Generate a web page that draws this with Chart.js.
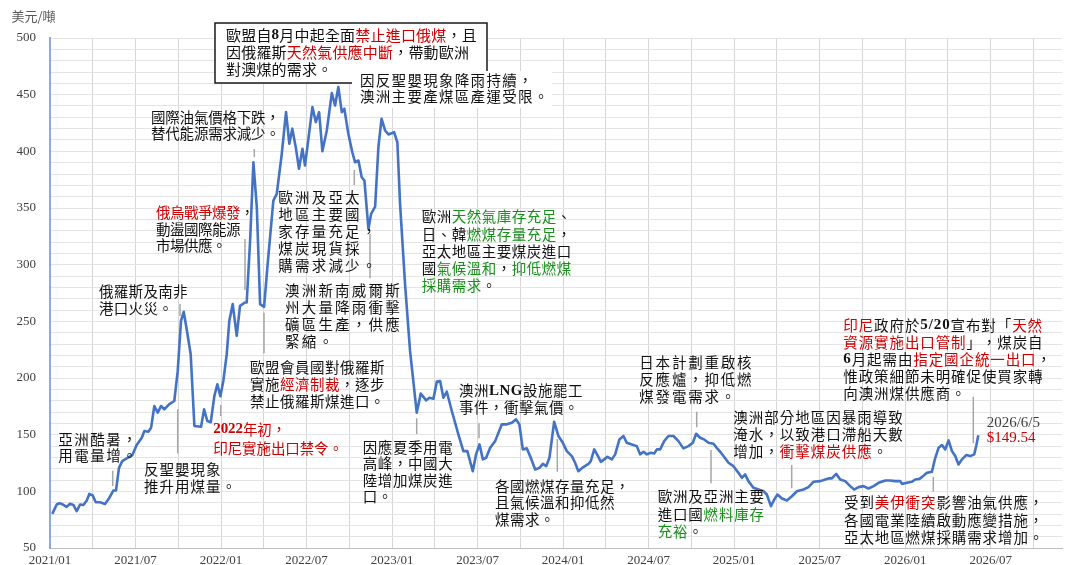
<!DOCTYPE html>
<html>
<head>
<meta charset="utf-8">
<script src="https://cdn.jsdelivr.net/npm/chart.js@4/dist/chart.umd.min.js"></script>
<style>
  html, body { margin: 0; padding: 0; background: #ffffff; }
  canvas { display: block; }
</style>
</head>
<body>
<canvas id="c" width="1066" height="565"></canvas>
<script>
// ---- DATA (months since 2021/01, price in US$/ton) ----
const months = [
  0.16, 0.47, 0.66, 0.82, 1.17, 1.40, 1.64, 1.87, 2.11, 2.34,
  2.58, 2.76, 3.00, 3.21, 3.51, 3.86, 4.16, 4.44, 4.63, 4.84,
  5.07, 5.38, 5.78, 6.08, 6.44, 6.62, 6.90, 7.09, 7.32, 7.56,
  7.79, 8.02, 8.35, 8.72, 8.96, 9.19, 9.38, 9.59, 9.87, 10.13,
  10.60, 10.81, 11.04, 11.28, 11.53, 11.74, 11.95, 12.16, 12.40, 12.58,
  12.82, 13.10, 13.33, 13.68, 13.80, 14.04, 14.27, 14.51, 14.74, 15.02,
  15.28, 15.67, 15.91, 16.26, 16.56, 16.79, 17.00, 17.24, 17.47, 17.71,
  17.89, 18.13, 18.41, 18.65, 18.88, 19.11, 19.42, 19.77, 20.00, 20.23,
  20.47, 20.65, 20.93, 21.21, 21.40, 21.64, 21.87, 22.06, 22.34, 22.53,
  22.81, 23.04, 23.26, 23.51, 23.74, 24.14, 24.37, 24.56, 24.91, 25.26,
  25.73, 26.01, 26.39, 26.62, 26.90, 27.14, 27.37, 27.60, 27.84, 28.19,
  28.65, 29.00, 29.28, 29.66, 29.89, 30.13, 30.37, 30.60, 30.88, 31.23,
  31.70, 32.05, 32.40, 32.70, 32.93, 33.17, 33.45, 33.73, 34.04, 34.34,
  34.58, 34.81, 35.04, 35.37, 35.67, 35.98, 36.26, 36.61, 36.84, 37.07,
  37.42, 37.78, 37.94, 38.18, 38.41, 38.65, 38.88, 39.11, 39.42, 39.65,
  39.95, 40.23, 40.47, 40.82, 41.17, 41.40, 41.64, 41.87, 42.15, 42.39,
  42.58, 42.81, 43.09, 43.39, 43.74, 44.09, 44.44, 44.79, 45.10, 45.33,
  45.61, 45.89, 46.20, 46.55, 46.78, 47.02, 47.25, 47.60, 47.95, 48.30,
  48.54, 48.77, 49.00, 49.35, 49.71, 50.06, 50.29, 50.58, 50.81, 51.04,
  51.35, 51.70, 52.05, 52.40, 52.86, 53.21, 53.56, 54.04, 54.39, 54.62,
  54.85, 55.16, 55.44, 55.79, 56.14, 56.42, 56.72, 57.07, 57.42, 57.78,
  58.13, 58.60, 58.95, 59.30, 59.65, 59.77, 60.12, 60.47, 60.70, 61.00,
  61.24, 61.52, 61.87, 62.11, 62.34, 62.58, 62.81, 63.04, 63.28, 63.51,
  63.74, 63.98, 64.28, 64.56, 64.84, 64.98, 65.13
];
const prices = [
  80.1, 88.4, 89.5, 88.9, 86.3, 89.0, 88.0, 82.5, 88.4, 88.0,
  91.9, 97.7, 96.3, 90.4, 90.4, 88.9, 94.2, 100.7, 100.7, 120.7,
  126.7, 129.0, 132.0, 140.8, 147.3, 153.2, 152.6, 156.0, 175.3, 169.4,
  175.3, 172.4, 176.8, 179.7, 206.0, 250.4, 258.4, 243.0, 221.0, 157.6,
  157.0, 172.4, 162.0, 161.0, 184.0, 194.5, 184.0, 197.4, 221.0, 250.4,
  265.2, 237.2, 263.6, 266.6, 266.6, 321.2, 390.4, 350.6, 265.2, 262.8,
  302.0, 356.5, 362.4, 397.8, 434.6, 406.7, 420.0, 403.7, 384.6, 402.3,
  387.5, 411.0, 439.0, 425.8, 434.6, 400.1, 418.4, 451.4, 440.5, 456.7,
  434.6, 437.6, 415.5, 399.2, 390.4, 391.9, 377.1, 374.2, 331.5, 344.8,
  351.2, 403.7, 428.8, 418.4, 414.9, 416.9, 408.0, 353.6, 282.9, 223.9,
  169.4, 186.2, 180.3, 182.6, 181.7, 196.8, 197.4, 182.6, 187.9, 170.9,
  150.3, 135.5, 135.5, 117.8, 132.6, 141.4, 128.2, 129.6, 138.4, 144.3,
  159.1, 159.1, 160.5, 163.5, 159.1, 137.0, 137.9, 129.6, 119.3, 120.7,
  124.3, 122.2, 129.6, 161.4, 148.8, 142.8, 135.5, 131.1, 125.2, 117.8,
  121.4, 124.3, 126.7, 137.0, 132.0, 126.0, 128.2, 130.5, 128.2, 132.6,
  145.8, 148.8, 142.8, 141.4, 139.9, 132.6, 134.9, 132.6, 134.0, 133.4,
  137.0, 137.0, 144.3, 148.8, 148.8, 144.3, 137.9, 139.9, 142.8, 150.8,
  147.3, 145.8, 142.8, 142.0, 138.4, 134.9, 131.1, 125.2, 122.2, 116.3,
  111.9, 114.9, 109.0, 103.1, 101.6, 100.1, 97.2, 86.9, 92.8, 97.2,
  93.7, 91.9, 95.7, 100.1, 101.6, 103.7, 108.4, 109.0, 110.5, 111.4,
  111.4, 115.4, 110.5, 109.0, 104.6, 101.6, 103.7, 104.6, 102.5, 104.6,
  107.5, 109.6, 109.6, 109.0, 109.0, 106.6, 107.5, 108.4, 110.5, 111.0,
  113.4, 116.3, 117.2, 129.6, 138.4, 140.8, 137.0, 144.9, 135.5, 131.1,
  123.7, 128.2, 132.0, 131.1, 132.6, 139.9, 149.54
];
const tickMonths = [0,3,6,9,12,15,18,21,24,27,30,33,36,39,42,45,48,51,54,57,60,63,66,69];
const yTickValues = [50,100,150,200,250,300,350,400,450,500];
const yAxisTitle = '美元/噸';
const lastLabel = ['2026/6/5', '$149.54'];

function monthLabel(m) {
  const y = 2021 + Math.floor(m / 12);
  const mo = (m % 12) + 1;
  return y + '/' + String(mo).padStart(2, '0');
}

// ---- ANNOTATIONS (layout in pixels) ----
const CJK = '"Noto Sans CJK TC", "Noto Sans CJK SC", sans-serif';
const SERIFB = 'bold 15px "Liberation Serif", serif';
const RED = '#d00000', GREEN = '#17901a', INK = '#111111';
const notes = [
  { x: 226, y: 35, lh: 17, size: 15, ls: 0.2, box: [215, 23, 272, 60],
    lines: [["歐盟自", ["8", INK, SERIFB], "月中起全面", ["禁止進口俄煤", RED], "，且"],
            ["因俄羅斯", ["天然氣供應中斷", RED], "，帶動歐洲"],
            ["對澳煤的需求。"]] },
  { x: 360, y: 80, lh: 16.7, size: 14.5, ls: 1.3, bg: [352, 71, 200, 37],
    lines: [["因反聖嬰現象降雨持續，"], ["澳洲主要產煤區產運受限。"]] },
  { x: 151, y: 117.3, lh: 16, size: 14.5, ls: -0.2,
    lines: [["國際油氣價格下跌，"], ["替代能源需求減少。"]] },
  { x: 156, y: 212.3, lh: 16.7, size: 14.5, ls: -0.5,
    lines: [[["俄烏戰爭爆發", RED], "，"], ["動盪國際能源"], ["市場供應。"]] },
  { x: 99, y: 291.7, lh: 16.7, size: 14.5, ls: 0.3,
    lines: [["俄羅斯及南非"], ["港口火災。"]] },
  { x: 58.3, y: 439, lh: 16.7, size: 14.5, ls: 1.5,
    lines: [["亞洲酷暑，"], ["用電量增。"]] },
  { x: 144, y: 469.3, lh: 16.7, size: 14.5, ls: 1,
    lines: [["反聖嬰現象"], ["推升用煤量。"]] },
  { x: 213.3, y: 429.3, lh: 18.7, size: 14.5, ls: -0.1,
    lines: [[["2022", RED, SERIFB], ["年初，", RED]], [["印尼實施出口禁令。", RED]]] },
  { x: 250, y: 367.3, lh: 17.2, size: 14.5, ls: 0.5,
    lines: [["歐盟會員國對俄羅斯"], ["實施", ["經濟制裁", RED], "，逐步"], ["禁止俄羅斯煤進口。"]] },
  { x: 278.3, y: 197.3, lh: 17.1, size: 14.5, ls: 2.2,
    lines: [["歐洲及亞太"], ["地區主要國"], ["家存量充足，"], ["煤炭現貨採"], ["購需求減少。"]] },
  { x: 285, y: 290, lh: 17.2, size: 14.5, ls: 2.2,
    lines: [["澳洲新南威爾斯"], ["州大量降雨衝擊"], ["礦區生產，供應"], ["緊縮。"]] },
  { x: 362.7, y: 447.3, lh: 16.5, size: 14.5, ls: 0.6,
    lines: [["因應夏季用電"], ["高峰，中國大"], ["陸增加煤炭進"], ["口。"]] },
  { x: 421.7, y: 216.7, lh: 17.3, size: 14.5, ls: 0.5,
    lines: [["歐洲", ["天然氣庫存充足", GREEN], "、"],
            ["日、韓", ["燃煤存量充足", GREEN], "，"],
            ["亞太地區主要煤炭進口"],
            ["國", ["氣候溫和", GREEN], "，", ["抑低燃煤", GREEN]],
            [["採購需求", GREEN], "。"]] },
  { x: 459, y: 390.7, lh: 17, size: 14.5, ls: 0.5,
    lines: [["澳洲", ["LNG", INK, SERIFB], "設施罷工"], ["事件，衝擊氣價。"]] },
  { x: 495, y: 486, lh: 16.7, size: 14.5, ls: 0.5,
    lines: [["各國燃煤存量充足，"], ["且氣候溫和抑低然"], ["煤需求。"]] },
  { x: 639.3, y: 362.7, lh: 17, size: 14.5, ls: 1.8,
    lines: [["日本計劃重啟核"], ["反應爐，抑低燃"], ["煤發電需求。"]] },
  { x: 657.7, y: 496.7, lh: 17.5, size: 14.5, ls: 0.8,
    lines: [["歐洲及亞洲主要"], ["進口國", ["燃料庫存", GREEN]], [["充裕", GREEN], "。"]] },
  { x: 733.3, y: 417.3, lh: 16.9, size: 14.5, ls: 1,
    lines: [["澳洲部分地區因暴雨導致"], ["淹水，以致港口滯船天數"], ["增加，", ["衝擊煤炭供應", RED], "。"]] },
  { x: 843.3, y: 325, lh: 17.1, size: 14.5, ls: 0.9,
    lines: [[["印尼", RED], "政府於", ["5/20", INK, SERIFB], "宣布對「", ["天然", RED]],
            [["資源實施出口管制", RED], "」，煤炭自"],
            [["6", INK, SERIFB], "月起需由", ["指定國企統一出口", RED], "，"],
            ["惟政策細節未明確促使買家轉"],
            ["向澳洲煤供應商。"]] },
  { x: 844, y: 502.7, lh: 17.5, size: 14.5, ls: 0.9,
    lines: [["受到", ["美伊衝突", RED], "影響油氣供應，"], ["各國電業陸續啟動應變措施，"], ["亞太地區燃煤採購需求增加。"]] },
  { x: 986.7, y: 422.7, lh: 15.6, size: 15, ls: 0,
    lines: [[[lastLabel[0], '#404040', '15px "Liberation Serif", serif']],
            [[lastLabel[1], RED, '15px "Liberation Serif", serif']]] }
];
const leaders = [
  [254.3, 149, 157], [245, 239, 290], [180, 304, 316], [112.7, 470.7, 486],
  [177.7, 409.3, 453.3], [220.7, 405, 416], [264, 312.7, 353.3], [354.3, 170, 185],
  [370, 234, 278.3], [416.7, 418.3, 434], [479, 423.3, 438.3], [557.3, 439, 471.7],
  [696.7, 411.7, 427.3], [711, 450, 483.3], [791.7, 465, 488.3], [973.3, 396.7, 443.3],
  [933.3, 476.7, 491.7]
];

const notePlugin = {
  id: 'notes',
  afterDatasetsDraw(chart) {
    const ctx = chart.ctx;
    ctx.save();
    ctx.font = '13px ' + CJK;
    ctx.fillStyle = '#595959';
    ctx.textBaseline = 'middle';
    ctx.textAlign = 'left';
    ctx.fillText(yAxisTitle, 11.5, 15.7);
    ctx.strokeStyle = '#a6a6a6';
    ctx.lineWidth = 1.5;
    leaders.forEach(([x, y1, y2]) => {
      ctx.beginPath(); ctx.moveTo(x, y1); ctx.lineTo(x, y2); ctx.stroke();
    });
    notes.forEach(n => {
      if (n.bg) { ctx.fillStyle = '#ffffff'; ctx.fillRect(n.bg[0], n.bg[1], n.bg[2], n.bg[3]); }
      if (n.box) {
        ctx.fillStyle = '#ffffff';
        ctx.fillRect(n.box[0], n.box[1], n.box[2], n.box[3]);
        ctx.strokeStyle = '#1a1a1a'; ctx.lineWidth = 1.5;
        ctx.strokeRect(n.box[0], n.box[1], n.box[2], n.box[3]);
      }
      const baseFont = n.size + 'px ' + CJK;
      n.lines.forEach((segs, i) => {
        let x = n.x;
        const y = n.y + i * n.lh;
        segs.forEach(seg => {
          let text, color = INK, font = baseFont;
          if (typeof seg === 'string') { text = seg; }
          else { text = seg[0]; color = seg[1] || INK; font = seg[2] || baseFont; }
          ctx.font = font;
          ctx.fillStyle = color;
          for (const ch of text) {
            ctx.fillText(ch, x, y);
            x += ctx.measureText(ch).width + n.ls;
          }
        });
      });
    });
    ctx.restore();
  }
};

new Chart(document.getElementById('c').getContext('2d'), {
  type: 'line',
  data: {
    datasets: [{
      data: months.map((m, i) => ({ x: m, y: prices[i] })),
      borderColor: '#4472c4',
      borderWidth: 2.6,
      pointRadius: 0,
      tension: 0,
      fill: false,
      borderJoinStyle: 'round'
    }]
  },
  options: {
    responsive: false,
    animation: false,
    devicePixelRatio: 1,
    layout: { padding: { left: 0, right: 4, top: 38, bottom: 0 } },
    plugins: { legend: { display: false }, tooltip: { enabled: false } },
    scales: {
      x: {
        type: 'linear', min: 0, max: 71,
        afterFit(s) { s.height = 17; s.paddingLeft = 0; s.paddingRight = 0; },
        afterBuildTicks(s) { s.ticks = tickMonths.map(v => ({ value: v })); },
        ticks: {
          autoSkip: false, maxRotation: 0, minRotation: 0, padding: 5,
          font: { family: '"Liberation Serif", serif', size: 13 },
          color: '#404040',
          callback: v => (v % 6 === 0 ? monthLabel(v) : '')
        },
        grid: { color: '#d6d6d6', lineWidth: 1, drawTicks: false },
        border: { color: '#bfbfbf', width: 1 }
      },
      y: {
        min: 50, max: 500,
        afterFit(s) { s.width = 50; s.paddingTop = 0; s.paddingBottom = 0; },
        ticks: {
          stepSize: 10, autoSkip: false, padding: 14,
          font: { family: '"Liberation Serif", serif', size: 13 },
          color: '#404040',
          callback: v => (yTickValues.includes(v) ? String(v) : '')
        },
        grid: { color: '#e4e4e4', lineWidth: 1, drawTicks: false },
        border: { color: '#8eaadb', width: 2 }
      }
    }
  },
  plugins: [notePlugin]
});
</script>
</body>
</html>
